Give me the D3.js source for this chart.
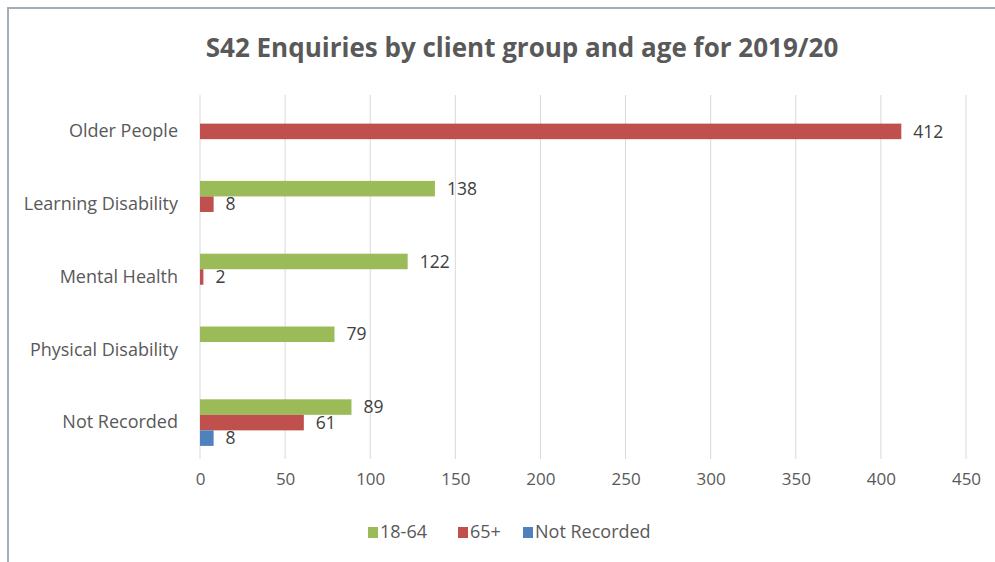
<!DOCTYPE html>
<html>
<head>
<meta charset="utf-8">
<script src="https://cdn.jsdelivr.net/npm/d3@7"></script>
<style>
  html, body { margin: 0; padding: 0; background: #ffffff; }
  svg { display: block; font-family: "Open Sans", "Liberation Sans", sans-serif; }
</style>
</head>
<body>
<svg id="chart" width="995" height="562"></svg>
<script>
// S42 enquiries by client group, split by age band
const categories = ["Older People", "Learning Disability", "Mental Health", "Physical Disability", "Not Recorded"];
const seriesNames = ["18-64", "65+", "Not Recorded"];
const values18to64 = [0, 138, 122, 79, 89];
const values65plus = [412, 8, 2, 0, 61];
const valuesNotRecorded = [0, 0, 0, 0, 8];
const xTicks = [0, 50, 100, 150, 200, 250, 300, 350, 400, 450];
const seriesColors = ["#9bbb59", "#c0504d", "#4f81bd"];

const seriesValues = [values18to64, values65plus, valuesNotRecorded];

const FONT = "'Open Sans', 'Liberation Sans', sans-serif";
const svg = d3.select("#chart");
const W = 995, H = 562;
const plot = { left: 200, right: 966, top: 95, bottom: 459 };

// chart frame
svg.append("rect")
  .attr("x", 8).attr("y", 8)
  .attr("width", W + 10).attr("height", H + 10)
  .attr("fill", "#ffffff")
  .attr("stroke", "#a3acb9").attr("stroke-width", 2);

const x = d3.scaleLinear().domain([0, 450]).range([plot.left, plot.right]);
const y = d3.scaleBand().domain(categories).range([plot.top, plot.bottom]).paddingInner(0.36).paddingOuter(0.18);
const ySub = d3.scaleBand().domain(d3.range(seriesNames.length)).range([0, y.bandwidth()]);

// title
svg.append("text")
  .attr("x", 522).attr("y", 57)
  .attr("text-anchor", "middle")
  .attr("font-size", 26).attr("font-weight", "bold")
  .attr("fill", "#595959")
  .text("S42 Enquiries by client group and age for 2019/20");

// vertical gridlines
svg.append("g").selectAll("line").data(xTicks).join("line")
  .attr("x1", d => x(d)).attr("x2", d => x(d))
  .attr("y1", plot.top).attr("y2", plot.bottom)
  .attr("stroke", "#d9d9d9").attr("stroke-width", 1);

// x axis tick labels
const xAxis = d3.axisBottom(x).tickValues(xTicks).tickSize(0).tickPadding(0);
const gx = svg.append("g").attr("transform", `translate(0,${plot.bottom + 20})`).call(xAxis)
  .attr("font-family", FONT).attr("font-size", 17);
gx.select(".domain").remove();
gx.selectAll("text").attr("fill", "#595959").attr("dy", "0.35em").attr("y", 0);

// category labels
const yAxis = d3.axisLeft(y).tickSize(0).tickPadding(0);
const gy = svg.append("g").attr("transform", `translate(${plot.left - 22},0)`).call(yAxis)
  .attr("font-family", FONT).attr("font-size", 18);
gy.select(".domain").remove();
gy.selectAll("text").attr("fill", "#595959");

// bars
const rows = [];
categories.forEach((c, i) => {
  seriesValues.forEach((vals, s) => {
    rows.push({ cat: c, s: s, v: vals[i] });
  });
});

const bars = svg.append("g");
bars.selectAll("rect").data(rows.filter(d => d.v > 0)).join("rect")
  .attr("x", x(0))
  .attr("y", d => y(d.cat) + ySub(d.s))
  .attr("width", d => x(d.v) - x(0))
  .attr("height", ySub.bandwidth())
  .attr("fill", d => seriesColors[d.s]);

// value labels
bars.selectAll("text").data(rows.filter(d => d.v > 0)).join("text")
  .attr("x", d => x(d.v) + 12)
  .attr("y", d => y(d.cat) + ySub(d.s) + ySub.bandwidth() / 2)
  .attr("dy", "0.35em")
  .attr("font-size", 17.5)
  .attr("fill", "#404040")
  .text(d => d.v);

// legend
const legendItems = [
  { name: seriesNames[0], color: seriesColors[0], x: 368 },
  { name: seriesNames[1], color: seriesColors[1], x: 458 },
  { name: seriesNames[2], color: seriesColors[2], x: 523 }
];
const lg = svg.append("g");
legendItems.forEach(it => {
  lg.append("rect").attr("x", it.x).attr("y", 527).attr("width", 10).attr("height", 11).attr("fill", it.color);
  lg.append("text").attr("x", it.x + 12).attr("y", 532).attr("dy", "0.35em")
    .attr("font-size", 18).attr("fill", "#595959").text(it.name);
});
</script>
</body>
</html>
